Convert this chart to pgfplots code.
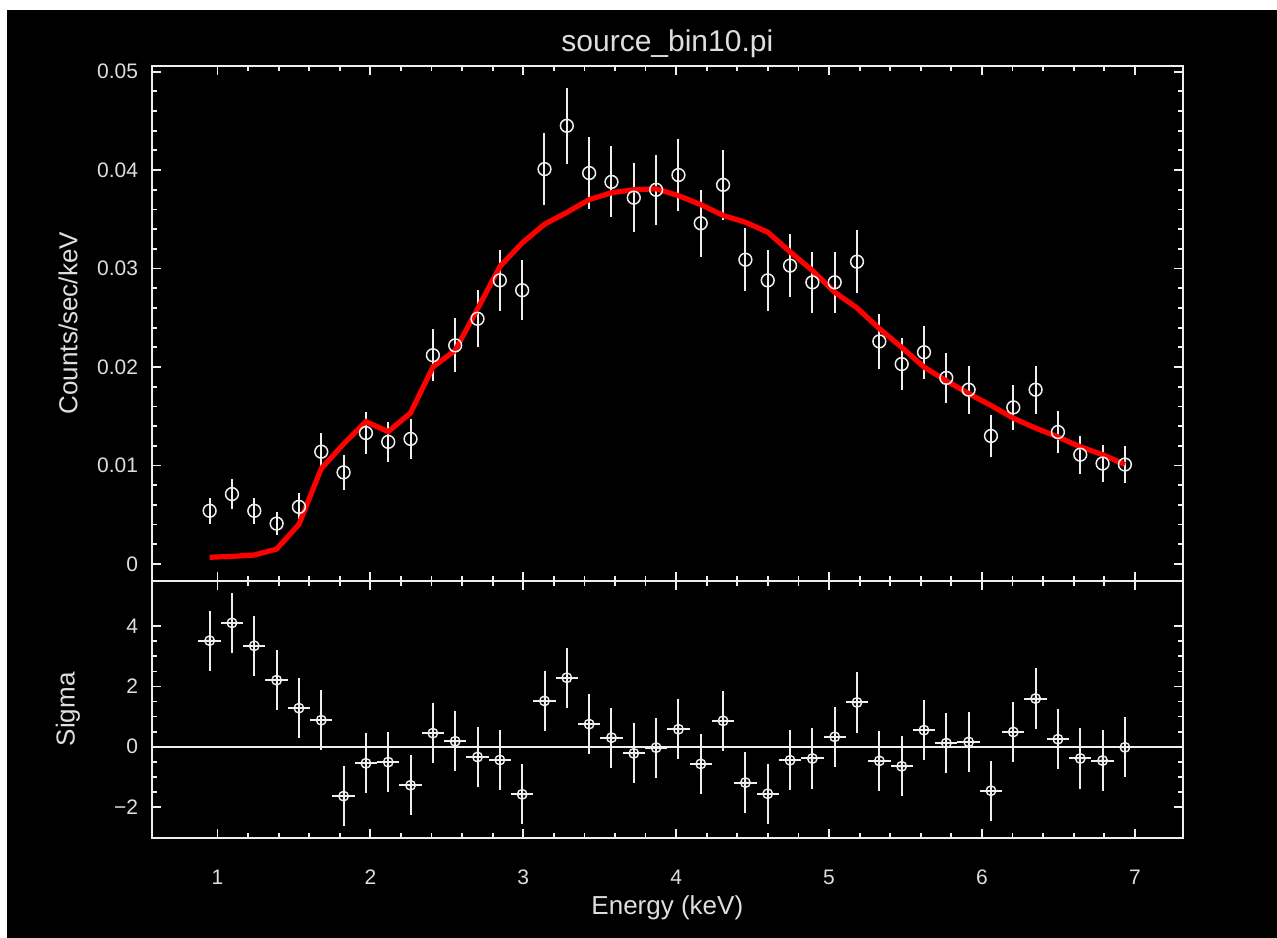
\documentclass[border=0pt]{standalone}
\usepackage{fontspec}
\setmainfont{Liberation Sans}
\usepackage{pgfplots}
\usepackage{pgfplotstable}
\pgfplotsset{compat=1.18}
\definecolor{txt}{RGB}{222,222,222}
\definecolor{ax}{RGB}{238,238,238}
\definecolor{mred}{RGB}{255,0,0}

\pgfplotstableread{
x y ey model sigma
0.949 0.0054 0.00134 0.00068 3.52
1.095 0.0071 0.00154 0.00077 4.11
1.241 0.0054 0.00134 0.00091 3.35
1.387 0.0041 0.00117 0.00151 2.21
1.533 0.0058 0.00139 0.00402 1.28
1.679 0.0114 0.00195 0.00969 0.88
1.825 0.0093 0.00176 0.01219 -1.64
1.971 0.0133 0.00211 0.01446 -0.55
2.117 0.0124 0.00204 0.01344 -0.51
2.263 0.0127 0.00206 0.01534 -1.28
2.409 0.0212 0.00266 0.0200 0.45
2.555 0.0222 0.00273 0.0217 0.18
2.701 0.0249 0.00289 0.0259 -0.34
2.847 0.0288 0.00311 0.0302 -0.44
2.993 0.0278 0.00305 0.0326 -1.58
3.139 0.0401 0.00366 0.0345 1.52
3.285 0.0445 0.00386 0.0357 2.29
3.431 0.0397 0.00365 0.0370 0.75
3.577 0.0388 0.00360 0.0377 0.30
3.723 0.0372 0.00353 0.0380 -0.22
3.869 0.0380 0.00357 0.0381 -0.03
4.015 0.0395 0.00364 0.0374 0.58
4.161 0.0346 0.00340 0.0365 -0.57
4.307 0.0385 0.00359 0.0354 0.86
4.453 0.0309 0.00322 0.0347 -1.19
4.599 0.0288 0.00311 0.0337 -1.56
4.745 0.0303 0.00319 0.0317 -0.45
4.891 0.0286 0.00309 0.0298 -0.39
5.037 0.0286 0.00309 0.0276 0.33
5.183 0.0307 0.00321 0.0260 1.47
5.329 0.0226 0.00275 0.0239 -0.47
5.475 0.0203 0.00261 0.0220 -0.65
5.621 0.0215 0.00268 0.0200 0.55
5.767 0.0189 0.00252 0.0186 0.12
5.913 0.0177 0.00243 0.0173 0.16
6.059 0.0130 0.00209 0.0161 -1.46
6.205 0.0159 0.00231 0.0148 0.49
6.351 0.0177 0.00243 0.0138 1.60
6.497 0.0134 0.00212 0.0129 0.25
6.643 0.0111 0.00193 0.0119 -0.39
6.789 0.0102 0.00185 0.0111 -0.46
6.935 0.0101 0.00184 0.0101 -0.02
}\spec

\pgfplotsset{
  common/.style={
    scale only axis, width=515.35bp,
    xmin=0.572, xmax=7.313,
    xtick={1,2,3,4,5,6,7}, minor x tick num=4,
    tick align=inside, tick pos=both,
    major tick length=4.5bp, minor tick length=2.5bp,
    axis line style={ax, line width=1bp},
    every tick/.style={ax, line width=0.9bp},
    tick label style={txt, font=\fontsize{10.5bp}{12bp}\selectfont},
    label style={txt, font=\fontsize{13bp}{15bp}\selectfont},
    ylabel style={at={(axis description cs:-0.0815,0.5)}, anchor=center, txt, font=\fontsize{13bp}{15bp}\selectfont},
    yticklabel style={xshift=-3.5bp},
    scaled y ticks=false,
    every axis title shift=0pt,
  }
}

\begin{document}
\begin{tikzpicture}
\fill[white] (0,0) rectangle (638.5bp,-469bp);
\fill[black] (3.5bp,-5bp) rectangle (638.5bp,-469bp);

\begin{axis}[common,
  at={(76bp,-32.85bp)}, anchor=north west,
  height=257.5bp,
  ymin=-0.0017, ymax=0.0506,
  ytick={0,0.01,0.02,0.03,0.04,0.05},
  yticklabels={0,0.01,0.02,0.03,0.04,0.05},
  minor y tick num=4,
  xticklabels={},
  ylabel={Counts/sec/keV},
  title={source\_bin10.pi},
  title style={txt, font=\fontsize{15bp}{17bp}\selectfont, at={(axis description cs:0.5,1.0427)}, anchor=center},
]
\addplot[only marks, ax, mark=o, mark size=3.2bp, mark options={line width=0.75bp},
  error bars/.cd, y dir=both, y explicit, error bar style={line width=1bp, ax}, error mark=none]
  table[x=x, y=y, y error=ey]{\spec};
\addplot[mred, line width=2.6bp, no marks] table[x=x, y=model]{\spec};
\end{axis}

\begin{axis}[common,
  at={(76bp,-290.35bp)}, anchor=north west,
  height=128.65bp,
  ymin=-3.03, ymax=5.51,
  ytick={-2,0,2,4},
  yticklabels={−2,0,2,4},
  minor y tick num=3,
  xticklabels={1,2,3,4,5,6,7},
  xticklabel style={yshift=-12.25bp},
  ylabel={Sigma},
  xlabel={Energy (keV)},
  xlabel style={at={(axis description cs:0.5,-0.272)}, anchor=center},
]
\addplot[ax, line width=0.9bp] coordinates {(0.572,0) (7.313,0)};
\addplot[only marks, ax, mark=oplus, mark size=2.4bp, mark options={line width=0.7bp},
  error bars/.cd, x dir=both, x fixed=0.073, y dir=both, y fixed=1,
  error bar style={line width=1bp, ax}, error mark=none]
  table[x=x, y=sigma]{\spec};
\end{axis}

\pgfresetboundingbox
\useasboundingbox (0,0) rectangle (638.5bp,-469bp);
\end{tikzpicture}
\end{document}
